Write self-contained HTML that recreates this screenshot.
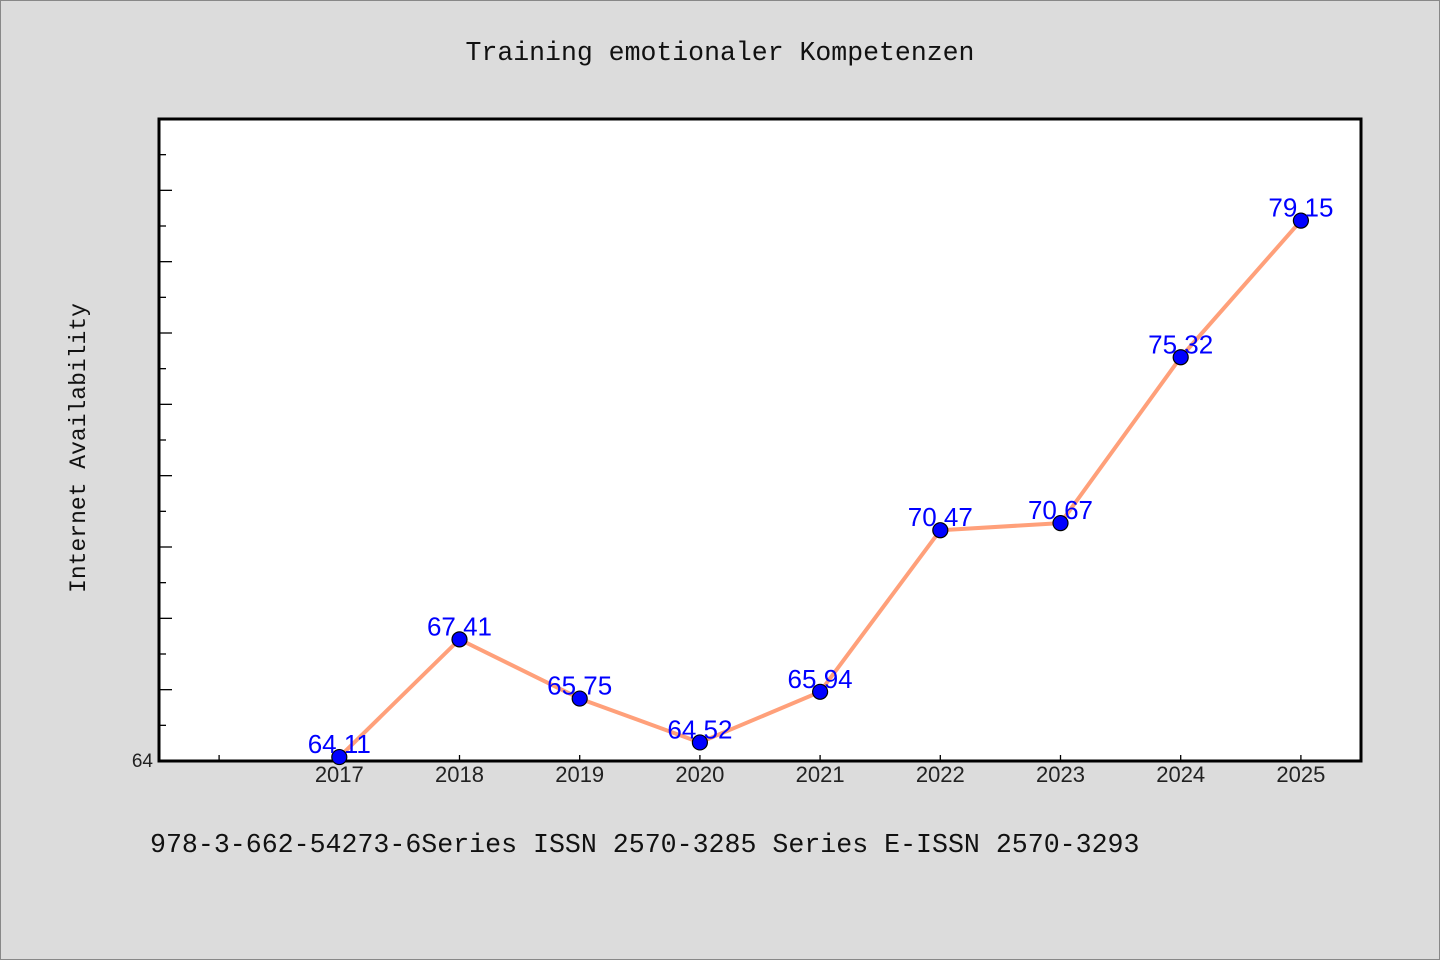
<!DOCTYPE html>
<html><head><meta charset="utf-8"><style>
body{margin:0;background:#dcdcdc;}
svg{display:block;font-family:"Liberation Sans","WenQuanYi Zen Hei",sans-serif;}
</style></head><body>
<svg width="1440" height="960" viewBox="0 0 1440 960">
<rect x="0.5" y="0.5" width="1439" height="959" fill="#dcdcdc" stroke="#888"/>
<text x="720" y="60" text-anchor="middle" font-family="Liberation Mono, monospace" font-size="26.5" fill="#111">Training emotionaler Kompetenzen</text>
<rect x="159" y="119" width="1202" height="642" fill="#fff" stroke="#000" stroke-width="3"/>
<text transform="translate(85,448) rotate(-90)" text-anchor="middle" font-family="Liberation Mono, monospace" font-size="23" fill="#111">Internet Availability</text>
<text x="150" y="852" font-family="Liberation Mono, monospace" font-size="26.6" fill="#111">978-3-662-54273-6Series ISSN 2570-3285 Series E-ISSN 2570-3293</text>
<g id="ticks"></g><g id="marks"></g>
</svg>
<script>
const years=[2017,2018,2019,2020,2021,2022,2023,2024,2025];
const values=[64.11,67.41,65.75,64.52,65.94,70.47,70.67,75.32,79.15];
const labels=["64.11","67.41","65.75","64.52","65.94","70.47","70.67","75.32","79.15"];
const yTickLabels=["64"];
const ns="http://www.w3.org/2000/svg";
const X0=159,X1=1361,Y0=761,Y1=119,yMin=64,yMax=82,xMin=2015.5,xMax=2025.5;
const xs=v=>X0+(v-xMin)/(xMax-xMin)*(X1-X0);
const ys=v=>Y0-(v-yMin)/(yMax-yMin)*(Y0-Y1);
function mk(t,a,p){const e=document.createElementNS(ns,t);for(const k in a)e.setAttribute(k,a[k]);p.appendChild(e);return e;}
const tg=document.getElementById('ticks'),mg=document.getElementById('marks');
for(let v=yMin+1;v<yMax;v++){
 const t=mk('line',{x1:X0,x2:X0+(v%2===0?13:7),y1:ys(v),y2:ys(v),stroke:'#000','stroke-width':1.3},tg);
 
 
}
const yl=mk('text',{x:X0-6,y:Y0+6,'text-anchor':'end','font-size':19,fill:'#222'},tg);
yl.textContent=yTickLabels[0];


const allYears=[2016].concat(years);
allYears.forEach(y=>{
 const t=mk('line',{x1:xs(y),x2:xs(y),y1:Y0,y2:Y0-6,stroke:'#000','stroke-width':1.3},tg);
 
 
});
years.forEach(y=>{
 const t=mk('text',{x:xs(y),y:782,'text-anchor':'middle','font-size':22,fill:'#222'},tg);
 t.textContent=y;
 
 
});
const pts=years.map((y,i)=>xs(y)+','+ys(values[i])).join(' ');
const line=mk('polyline',{points:pts,fill:'none',stroke:'#ffa07a','stroke-width':4,'stroke-linejoin':'round'},mg);


years.forEach((y,i)=>{
 const c=mk('circle',{cx:xs(y),cy:ys(values[i]),r:7.5,fill:'#0000ff',stroke:'#000','stroke-width':1.2},mg);
 
 
});
years.forEach((y,i)=>{
 const t=mk('text',{x:xs(y),y:ys(values[i])-4,'text-anchor':'middle','font-size':26,fill:'#0000ff'},mg);
 t.textContent=labels[i];
 
 
});
</script>
</body></html>
